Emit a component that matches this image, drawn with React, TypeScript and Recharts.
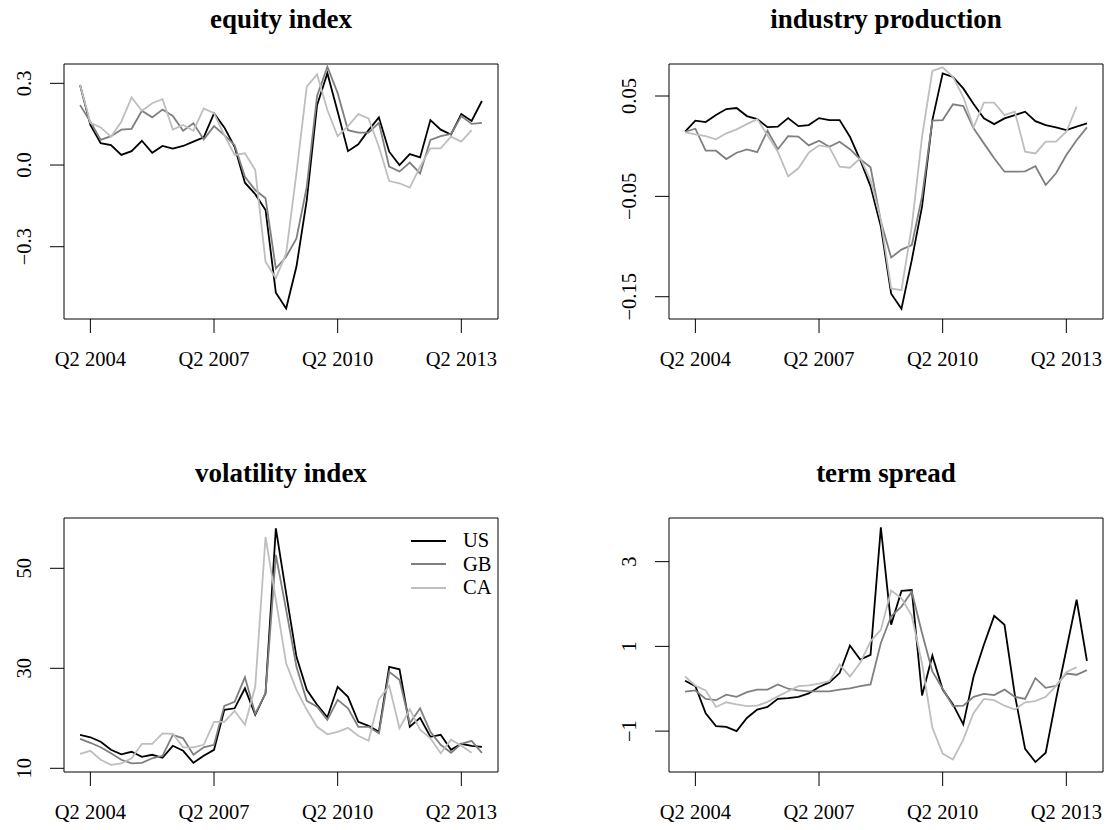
import React from "react";
import { LineChart, Line, XAxis, YAxis, ReferenceArea, Legend } from "recharts";

// quarterly observations, Q1 2004 .. Q4 2013
const quarters = [
  "Q1 2004", "Q2 2004", "Q3 2004", "Q4 2004", "Q1 2005", "Q2 2005", "Q3 2005", "Q4 2005",
  "Q1 2006", "Q2 2006", "Q3 2006", "Q4 2006", "Q1 2007", "Q2 2007", "Q3 2007", "Q4 2007",
  "Q1 2008", "Q2 2008", "Q3 2008", "Q4 2008", "Q1 2009", "Q2 2009", "Q3 2009", "Q4 2009",
  "Q1 2010", "Q2 2010", "Q3 2010", "Q4 2010", "Q1 2011", "Q2 2011", "Q3 2011", "Q4 2011",
  "Q1 2012", "Q2 2012", "Q3 2012", "Q4 2012", "Q1 2013", "Q2 2013", "Q3 2013", "Q4 2013",
];
const xTicks = [1, 13, 25, 37];
const countries = ["US", "GB", "CA"];

const equityUS = [0.294, 0.147, 0.08, 0.073, 0.037, 0.051, 0.089, 0.045, 0.07, 0.06, 0.07, 0.086, 0.102, 0.19, 0.138, 0.067, -0.065, -0.107, -0.165, -0.469, -0.527, -0.373, -0.129, 0.22, 0.337, 0.196, 0.051, 0.076, 0.128, 0.175, 0.049, 0.0, 0.04, 0.028, 0.165, 0.13, 0.112, 0.187, 0.162, 0.235];
const equityGB = [0.22, 0.159, 0.092, 0.106, 0.13, 0.133, 0.199, 0.175, 0.204, 0.18, 0.126, 0.153, 0.094, 0.143, 0.11, 0.073, -0.043, -0.092, -0.122, -0.38, -0.337, -0.27, -0.08, 0.254, 0.361, 0.264, 0.128, 0.119, 0.119, 0.155, -0.006, -0.024, 0.009, -0.031, 0.092, 0.106, 0.114, 0.18, 0.151, 0.155];
const equityCA = [0.294, 0.155, 0.138, 0.104, 0.159, 0.248, 0.199, 0.227, 0.242, 0.13, 0.147, 0.126, 0.208, 0.19, 0.11, 0.037, 0.043, -0.018, -0.355, -0.416, -0.324, -0.03, 0.288, 0.333, 0.202, 0.106, 0.143, 0.187, 0.171, 0.067, -0.059, -0.067, -0.083, -0.006, 0.061, 0.061, 0.104, 0.086, 0.128, null];

const industryUS = [0.0144, 0.0254, 0.024, 0.031, 0.037, 0.038, 0.03, 0.027, 0.019, 0.0194, 0.028, 0.02, 0.021, 0.028, 0.026, 0.026, 0.0095, -0.0138, -0.04, -0.08, -0.147, -0.162, -0.1135, -0.06, 0.026, 0.0726, 0.069, 0.0576, 0.042, 0.0277, 0.022, 0.0277, 0.031, 0.0344, 0.025, 0.021, 0.0188, 0.016, 0.0194, 0.0227];
const industryGB = [0.0144, 0.0174, -0.0045, -0.0045, -0.0128, -0.0065, -0.0032, -0.006, 0.0154, -0.003, 0.01, 0.0095, 0.0008, 0.0055, -0.0005, 0.0045, -0.003, -0.013, -0.021, -0.075, -0.111, -0.103, -0.0986, -0.05, 0.0254, 0.026, 0.0417, 0.04, 0.0178, 0.0028, -0.012, -0.0254, -0.0254, -0.025, -0.02, -0.0387, -0.027, -0.0088, 0.006, 0.0188];
const industryCA = [0.0138, 0.0118, 0.01, 0.0068, 0.0128, 0.0168, 0.022, 0.027, 0.011, -0.0055, -0.03, -0.022, -0.0065, 0.0008, -0.001, -0.0205, -0.0215, -0.012, -0.0338, -0.0736, -0.1418, -0.1434, -0.08, 0.0095, 0.075, 0.0786, 0.069, 0.049, 0.0188, 0.0434, 0.0434, 0.031, 0.0344, -0.0055, -0.0072, 0.0045, 0.0045, 0.0144, 0.0394, null];

const volUS = [16.7, 16.2, 15.3, 13.7, 12.8, 13.3, 12.3, 12.7, 12.1, 14.5, 13.5, 11.1, 12.5, 13.7, 21.7, 22.0, 26.0, 20.7, 25.0, 58.0, 45.0, 32.3, 25.7, 22.7, 20.2, 26.3, 24.3, 19.3, 18.5, 17.3, 30.3, 29.8, 18.3, 20.1, 16.3, 16.7, 13.7, 14.9, 14.5, 14.3];
const volGB = [15.9, 15.1, 14.2, 13.0, 11.7, 11.0, 11.1, 12.0, 12.5, 16.7, 16.0, 12.7, 14.2, 14.7, 22.5, 23.3, 28.2, 20.9, 25.0, 52.7, 41.7, 30.3, 23.5, 22.3, 19.7, 23.7, 22.0, 18.3, 18.3, 17.0, 29.3, 27.7, 19.0, 22.0, 17.3, 14.7, 13.1, 14.9, 15.5, 13.1];
const volCA = [12.9, 13.5, 11.7, 10.7, 11.0, 12.0, 14.9, 14.9, 17.0, 16.9, 14.2, 14.2, 14.7, 19.3, 19.3, 21.5, 18.7, 26.3, 56.3, 43.7, 31.0, 25.7, 21.7, 18.3, 16.8, 17.3, 18.1, 16.5, 15.5, 23.8, 26.5, 18.0, 21.8, 17.7, 16.0, 13.0, 15.7, 14.5, 13.1, null];

const termUS = [0.19, 0.06, -0.58, -0.88, -0.9, -1.0, -0.69, -0.49, -0.43, -0.24, -0.22, -0.19, -0.11, 0.04, 0.15, 0.37, 1.02, 0.69, 0.8, 3.81, 1.51, 2.31, 2.33, -0.16, 0.78, -0.02, -0.37, -0.84, 0.29, 1.04, 1.72, 1.51, -0.14, -1.42, -1.73, -1.51, -0.25, 0.92, 2.1, 0.66];
const termGB = [-0.07, -0.04, -0.24, -0.27, -0.14, -0.19, -0.08, -0.02, -0.02, 0.1, 0.0, -0.04, -0.06, -0.06, -0.06, -0.02, 0.01, 0.06, 0.1, 1.08, 1.71, 1.94, 2.29, 1.31, 0.41, 0.0, -0.41, -0.4, -0.19, -0.12, -0.15, -0.02, -0.19, -0.24, 0.25, 0.02, 0.07, 0.36, 0.33, 0.44];
const termCA = [0.29, 0.07, -0.04, -0.43, -0.32, -0.37, -0.41, -0.4, -0.31, -0.18, -0.06, 0.06, 0.08, 0.12, 0.18, 0.57, 0.29, 0.61, 1.12, 1.39, 2.32, 2.14, 1.72, 0.59, -0.92, -1.53, -1.67, -1.2, -0.57, -0.24, -0.27, -0.4, -0.49, -0.32, -0.29, -0.19, 0.06, 0.39, 0.51, null];

const FONT = "'Liberation Serif', 'Times New Roman', serif";
const COLORS: Record<string, string> = { US: "#000000", GB: "#7f7f7f", CA: "#bebebe" };
const X_DOMAIN: [number, number] = [-1.56, 40.56];

const minus = (s: string) => s.replace("-", "\u2212");

function buildRows(us: (number | null)[], gb: (number | null)[], ca: (number | null)[]) {
  return quarters.map((q, i) => ({ t: i, q, US: us[i], GB: gb[i], CA: ca[i] }));
}

const XTick = (props: any) => {
  const { x, y, payload } = props;
  const idx = payload.value as number;
  return (
    <text x={x} y={y + 24} dy="0.33em" textAnchor="middle" fontFamily={FONT} fontSize={20.5} fill="#000">
      {quarters[idx]}
    </text>
  );
};

const makeYTick = (fmt: (v: number) => string) => (props: any) => {
  const { x, y, payload } = props;
  const cx = x - 24;
  return (
    <text
      x={cx}
      y={y}
      dy="0.33em"
      textAnchor="middle"
      transform={`rotate(-90, ${cx}, ${y})`}
      fontFamily={FONT}
      fontSize={20.5}
      fill="#000"
    >
      {minus(fmt(payload.value))}
    </text>
  );
};

// legend rows in series order: US, GB, CA
const LegendBox = (props: any) => {
  const items = [...(props.payload || [])].sort(
    (a: any, b: any) => countries.indexOf(a.value) - countries.indexOf(b.value)
  );
  return (
    <div style={{ fontFamily: FONT, fontSize: 20.5 }}>
      {items.map((it: any) => (
        <div key={it.value} style={{ display: "flex", alignItems: "center", height: 23.5 }}>
          <span style={{ display: "inline-block", width: 35, borderTop: `2px solid ${it.color}`, marginRight: 17 }} />
          <span>{it.value}</span>
        </div>
      ))}
    </div>
  );
};

interface PanelProps {
  title: string;
  rows: any[];
  yDomain: [number, number];
  yTicks: number[];
  fmt: (v: number) => string;
  left: number;
  top: number;
  width: number;
  yWidth: number;
  marginTop: number;
  marginRight: number;
  xHeight: number;
  marginBottom: number;
  legend?: boolean;
}

function Panel(p: PanelProps) {
  const height = 415;
  const plotW = p.width - p.yWidth - p.marginRight;
  return (
    <div style={{ position: "absolute", left: p.left, top: p.top, width: p.width, height }}>
      <div
        style={{
          position: "absolute",
          left: p.yWidth,
          width: plotW,
          top: p.marginTop - 35 - 22.6,
          textAlign: "center",
          fontFamily: FONT,
          fontWeight: "bold",
          fontSize: 27,
          lineHeight: "27px",
          whiteSpace: "nowrap",
        }}
      >
        {p.title}
      </div>
      <LineChart
        width={p.width}
        height={height}
        data={p.rows}
        margin={{ top: p.marginTop, right: p.marginRight, bottom: p.marginBottom, left: 0 }}
      >
        <XAxis
          dataKey="t"
          type="number"
          domain={X_DOMAIN}
          ticks={xTicks}
          allowDataOverflow
          height={p.xHeight}
          axisLine={false}
          tickSize={14}
          tickLine={{ stroke: "#000", strokeWidth: 1 }}
          tick={<XTick />}
          interval={0}
        />
        <YAxis
          type="number"
          domain={p.yDomain}
          ticks={p.yTicks}
          allowDataOverflow
          width={p.yWidth}
          axisLine={false}
          tickSize={14}
          tickLine={{ stroke: "#000", strokeWidth: 1 }}
          tick={makeYTick(p.fmt)}
          interval={0}
        />
        <ReferenceArea
          x1={X_DOMAIN[0]}
          x2={X_DOMAIN[1]}
          y1={p.yDomain[0]}
          y2={p.yDomain[1]}
          fill="none"
          fillOpacity={0}
          stroke="#000"
          strokeWidth={1}
          ifOverflow="visible"
        />
        {countries.map((c) => (
          <Line
            key={c}
            type="linear"
            dataKey={c}
            name={c}
            stroke={COLORS[c]}
            strokeWidth={1.8}
            dot={false}
            isAnimationActive={false}
          />
        ))}
        {p.legend && (
          <Legend
            layout="vertical"
            align="center"
            verticalAlign="middle"
            wrapperStyle={{ left: 411, top: 114, width: 120 }}
            content={<LegendBox />}
          />
        )}
      </LineChart>
    </div>
  );
}

export default function App() {
  const leftCol = { left: 0, width: 555, yWidth: 64, marginRight: 57 };
  const rightCol = { left: 555, width: 556, yWidth: 114, marginRight: 8 };
  const topRow = { top: 0, marginTop: 64, xHeight: 60, marginBottom: 36 };
  const bottomRow = { top: 415, marginTop: 103, xHeight: 58, marginBottom: 0 };

  return (
    <div style={{ position: "absolute", left: 0, top: 0, width: 1111, height: 830, background: "#fff", overflow: "hidden" }}>
      <Panel
        title="equity index"
        rows={buildRows(equityUS, equityGB, equityCA)}
        yDomain={[-0.5655, 0.371]}
        yTicks={[-0.3, 0, 0.3]}
        fmt={(v) => v.toFixed(1)}
        {...leftCol}
        {...topRow}
      />
      <Panel
        title="industry production"
        rows={buildRows(industryUS, industryGB, industryCA)}
        yDomain={[-0.1722, 0.0819]}
        yTicks={[-0.15, -0.05, 0.05]}
        fmt={(v) => v.toFixed(2)}
        {...rightCol}
        {...topRow}
      />
      <Panel
        title="volatility index"
        rows={buildRows(volUS, volGB, volCA)}
        yDomain={[9.26, 60.06]}
        yTicks={[10, 30, 50]}
        fmt={(v) => String(v)}
        legend
        {...leftCol}
        {...bottomRow}
      />
      <Panel
        title="term spread"
        rows={buildRows(termUS, termGB, termCA)}
        yDomain={[-1.965, 4.03]}
        yTicks={[-1, 1, 3]}
        fmt={(v) => String(v)}
        {...rightCol}
        {...bottomRow}
      />
    </div>
  );
}
